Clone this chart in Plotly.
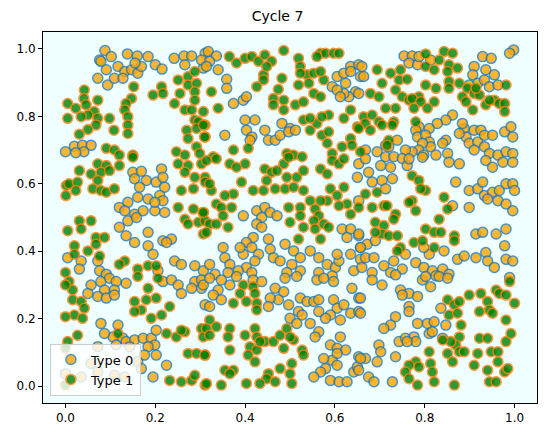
import plotly.graph_objects as go

title = "Cycle 7"
type_names = ["Type 0", "Type 1"]

# agent positions (x, y)
type0_points = [
    (0.088, 0.995), (0.076, 0.967), (0.102, 0.977), (0.138, 0.985), (0.160, 0.979), (0.184, 0.977),
    (0.200, 0.953), (0.215, 0.940), (0.117, 0.948), (0.132, 0.933), (0.147, 0.938), (0.161, 0.928),
    (0.169, 0.948), (0.091, 0.938), (0.072, 0.913), (0.094, 0.893), (0.109, 0.913), (0.128, 0.913),
    (0.155, 0.958), (0.079, 0.963), (0.242, 0.972), (0.264, 0.979), (0.281, 0.979), (0.266, 0.953),
    (0.307, 0.943), (0.311, 0.987), (0.303, 0.967), (0.000, 0.695), (0.020, 0.711), (0.038, 0.714),
    (0.057, 0.714), (0.041, 0.695), (0.023, 0.692),
    (0.318, 0.992), (0.336, 0.979), (0.321, 0.963), (0.340, 0.938), (0.359, 0.910), (0.359, 0.883),
    (0.374, 0.838), (0.396, 0.848), (0.403, 0.858), (0.314, 0.948), (0.422, 0.789), (0.400, 0.789),
    (0.403, 0.759), (0.415, 0.739), (0.411, 0.729), (0.444, 0.759), (0.452, 0.729), (0.467, 0.729),
    (0.478, 0.744), (0.482, 0.779), (0.500, 0.764), (0.497, 0.754), (0.512, 0.759), (0.355, 0.744),
    (0.594, 0.888), (0.605, 0.918), (0.620, 0.928), (0.635, 0.948), (0.653, 0.953), (0.657, 0.918),
    (0.646, 0.873), (0.631, 0.858), (0.620, 0.868), (0.605, 0.878), (0.624, 0.898), (0.635, 0.933),
    (0.612, 0.858),
    (0.998, 0.997), (0.989, 0.987), (0.754, 0.979), (0.772, 0.979), (0.765, 0.958), (0.784, 0.953),
    (0.787, 0.977), (0.813, 0.967), (0.660, 0.948), (0.664, 0.918), (0.653, 0.868), (0.910, 0.948),
    (0.929, 0.977), (0.948, 0.972), (0.936, 0.938), (0.955, 0.923), (0.907, 0.923), (0.918, 0.898),
    (0.933, 0.908), (0.944, 0.888), (0.963, 0.893), (0.899, 0.893), (0.862, 0.804), (0.847, 0.789),
    (0.828, 0.779), (0.810, 0.764), (0.787, 0.769), (0.780, 0.759), (0.784, 0.739), (0.802, 0.744),
    (0.810, 0.724), (0.813, 0.710), (0.795, 0.720), (0.787, 0.700), (0.772, 0.695), (0.757, 0.700),
    (0.720, 0.710), (0.713, 0.714), (0.694, 0.695), (0.668, 0.700), (0.847, 0.729), (0.840, 0.720),
    (0.851, 0.690), (0.825, 0.685), (0.798, 0.685), (0.888, 0.764), (0.910, 0.759), (0.925, 0.759),
    (0.892, 0.739), (0.899, 0.720), (0.918, 0.724), (0.933, 0.744), (0.951, 0.744), (0.910, 0.700),
    (0.933, 0.710), (0.944, 0.690), (0.963, 0.685), (0.981, 0.695), (0.996, 0.690), (0.978, 0.754),
    (0.996, 0.739), (0.992, 0.769), (0.884, 0.779), (0.877, 0.749), (0.739, 0.729), (0.713, 0.680),
    (0.731, 0.680), (0.750, 0.675),
    (0.150, 0.634), (0.169, 0.637), (0.214, 0.644), (0.154, 0.615), (0.180, 0.610), (0.202, 0.605),
    (0.217, 0.619), (0.165, 0.590), (0.221, 0.590), (0.210, 0.565), (0.184, 0.555), (0.161, 0.560),
    (0.139, 0.545), (0.120, 0.530), (0.132, 0.520), (0.154, 0.510), (0.173, 0.520), (0.199, 0.520),
    (0.221, 0.515), (0.139, 0.490), (0.158, 0.500), (0.120, 0.471), (0.135, 0.446), (0.154, 0.426),
    (0.184, 0.456), (0.184, 0.416), (0.217, 0.431), (0.236, 0.436), (0.225, 0.426), (0.195, 0.391),
    (0.005, 0.381), (0.035, 0.371), (0.031, 0.347), (0.072, 0.371), (0.076, 0.342), (0.091, 0.332),
    (0.243, 0.371), (0.258, 0.361), (0.288, 0.357), (0.307, 0.342), (0.206, 0.342), (0.217, 0.550),
    (0.199, 0.545),
    (0.653, 0.659), (0.650, 0.619), (0.396, 0.505), (0.426, 0.520), (0.444, 0.530), (0.456, 0.515),
    (0.437, 0.500), (0.471, 0.505), (0.426, 0.481), (0.437, 0.471), (0.418, 0.441), (0.403, 0.426),
    (0.415, 0.411), (0.396, 0.391), (0.389, 0.411), (0.351, 0.411), (0.355, 0.381), (0.366, 0.361),
    (0.321, 0.361), (0.452, 0.436), (0.456, 0.406), (0.430, 0.391), (0.422, 0.371), (0.403, 0.352),
    (0.385, 0.342), (0.333, 0.332), (0.463, 0.381), (0.489, 0.421), (0.478, 0.371), (0.508, 0.401),
    (0.504, 0.361), (0.523, 0.381), (0.523, 0.342), (0.545, 0.401), (0.564, 0.381), (0.583, 0.361),
    (0.601, 0.352), (0.609, 0.371), (0.564, 0.337), (0.594, 0.327), (0.616, 0.466), (0.635, 0.466),
    (0.627, 0.441), (0.653, 0.446), (0.657, 0.411), (0.635, 0.391), (0.605, 0.391), (0.657, 0.376),
    (0.642, 0.342), (0.493, 0.337), (0.362, 0.337), (0.415, 0.337),
    (0.668, 0.674), (0.702, 0.654), (0.724, 0.649), (0.761, 0.654), (0.795, 0.679), (0.765, 0.674),
    (0.854, 0.664), (0.877, 0.659), (0.936, 0.669), (0.951, 0.649), (0.974, 0.664), (0.996, 0.664),
    (0.675, 0.634), (0.705, 0.610), (0.728, 0.615), (0.683, 0.605), (0.713, 0.585), (0.869, 0.605),
    (0.899, 0.580), (0.918, 0.585), (0.929, 0.605), (0.933, 0.565), (0.951, 0.575), (0.966, 0.580),
    (0.963, 0.550), (0.940, 0.555), (0.981, 0.600), (0.996, 0.600), (1.000, 0.580), (0.996, 0.520),
    (0.981, 0.540), (0.862, 0.535), (0.899, 0.530), (0.653, 0.550), (0.653, 0.451), (0.672, 0.421),
    (0.690, 0.431), (0.657, 0.411), (0.668, 0.381), (0.687, 0.381), (0.660, 0.352), (0.683, 0.337),
    (0.709, 0.357), (0.731, 0.371), (0.724, 0.337), (0.750, 0.347), (0.757, 0.391), (0.780, 0.366),
    (0.798, 0.352), (0.817, 0.342), (0.840, 0.347), (0.843, 0.401), (0.810, 0.391), (0.798, 0.411),
    (0.914, 0.451), (0.929, 0.456), (0.959, 0.451), (0.981, 0.466), (0.978, 0.416), (0.873, 0.376),
    (0.888, 0.386), (0.914, 0.381), (0.936, 0.396), (0.940, 0.371), (0.955, 0.352), (0.981, 0.376),
    (0.996, 0.371), (0.989, 0.322), (0.854, 0.332), (0.825, 0.327),
    (0.057, 0.300), (0.079, 0.310), (0.098, 0.320), (0.113, 0.310), (0.109, 0.285), (0.087, 0.285),
    (0.072, 0.266), (0.091, 0.261), (0.109, 0.270), (0.135, 0.305), (0.050, 0.275), (0.217, 0.310),
    (0.236, 0.315), (0.251, 0.300), (0.258, 0.275), (0.288, 0.310), (0.303, 0.315), (0.303, 0.290),
    (0.281, 0.290), (0.311, 0.241), (0.079, 0.186), (0.117, 0.181), (0.106, 0.146), (0.128, 0.142),
    (0.135, 0.132), (0.154, 0.137), (0.173, 0.142), (0.191, 0.142), (0.202, 0.166), (0.199, 0.122),
    (0.184, 0.117), (0.176, 0.092), (0.202, 0.092), (0.225, 0.062), (0.195, 0.027), (0.161, 0.072),
    (0.143, 0.117), (0.113, 0.122), (0.072, 0.117), (0.057, 0.067), (0.072, 0.042), (0.109, 0.032),
    (0.132, 0.027), (0.000, 0.037), (0.035, 0.027), (0.169, 0.052), (0.087, 0.156),
    (0.307, 0.300), (0.321, 0.320), (0.340, 0.285), (0.329, 0.270), (0.347, 0.256), (0.366, 0.300),
    (0.347, 0.315), (0.321, 0.236), (0.381, 0.325), (0.418, 0.315), (0.437, 0.310), (0.467, 0.290),
    (0.489, 0.320), (0.515, 0.325), (0.486, 0.280), (0.474, 0.256), (0.456, 0.261), (0.452, 0.236),
    (0.497, 0.241), (0.523, 0.261), (0.538, 0.251), (0.553, 0.251), (0.564, 0.256), (0.519, 0.221),
    (0.527, 0.211), (0.500, 0.201), (0.515, 0.186), (0.545, 0.186), (0.564, 0.161), (0.556, 0.146),
    (0.612, 0.146), (0.560, 0.315), (0.575, 0.320), (0.597, 0.310), (0.638, 0.290), (0.653, 0.261),
    (0.597, 0.256), (0.605, 0.231), (0.620, 0.241), (0.590, 0.211), (0.579, 0.201), (0.612, 0.196),
    (0.635, 0.216), (0.653, 0.221), (0.590, 0.122), (0.605, 0.112), (0.624, 0.107), (0.594, 0.077),
    (0.605, 0.062), (0.579, 0.052), (0.568, 0.042), (0.553, 0.027), (0.590, 0.017), (0.609, 0.013),
    (0.627, 0.013), (0.642, 0.042), (0.650, 0.057), (0.653, 0.087), (0.575, 0.082), (0.564, 0.221),
    (0.605, 0.097),
    (0.683, 0.315), (0.705, 0.300), (0.735, 0.330), (0.795, 0.315), (0.802, 0.325), (0.832, 0.325),
    (0.851, 0.320), (0.813, 0.295), (0.746, 0.285), (0.765, 0.275), (0.784, 0.266), (0.750, 0.270),
    (0.657, 0.261), (0.657, 0.216), (0.765, 0.236), (0.765, 0.221), (0.836, 0.231), (0.735, 0.206),
    (0.724, 0.181), (0.709, 0.171), (0.784, 0.186), (0.806, 0.186), (0.821, 0.191), (0.810, 0.156),
    (0.817, 0.161), (0.847, 0.181), (0.840, 0.142), (0.743, 0.132), (0.757, 0.142), (0.776, 0.146),
    (0.780, 0.132), (0.698, 0.122), (0.702, 0.102), (0.694, 0.072), (0.668, 0.082), (0.657, 0.082),
    (0.653, 0.047), (0.675, 0.027), (0.687, 0.013), (0.735, 0.087), (0.728, 0.013), (0.761, 0.132),
]

type1_points = [
    (0.005, 0.838), (0.042, 0.878), (0.041, 0.853), (0.023, 0.824), (0.046, 0.834), (0.072, 0.848),
    (0.064, 0.814), (0.072, 0.794), (0.050, 0.804), (0.005, 0.794), (0.035, 0.799), (0.098, 0.794),
    (0.068, 0.774), (0.050, 0.761), (0.031, 0.747), (0.108, 0.759), (0.152, 0.888), (0.147, 0.853),
    (0.135, 0.838), (0.132, 0.819), (0.139, 0.799), (0.139, 0.774), (0.139, 0.749), (0.091, 0.705),
    (0.109, 0.700), (0.120, 0.685), (0.150, 0.685), (0.195, 0.863), (0.214, 0.888), (0.217, 0.868),
    (0.243, 0.838), (0.251, 0.908), (0.273, 0.918), (0.288, 0.933), (0.273, 0.893), (0.292, 0.898),
    (0.288, 0.873), (0.288, 0.848), (0.266, 0.819), (0.281, 0.819), (0.307, 0.814), (0.288, 0.789),
    (0.296, 0.784), (0.311, 0.774), (0.270, 0.759), (0.292, 0.764), (0.311, 0.739), (0.273, 0.734),
    (0.292, 0.710), (0.247, 0.695), (0.266, 0.685), (0.299, 0.690), (0.255, 0.868),
    (0.325, 0.873), (0.340, 0.824), (0.365, 0.977), (0.381, 0.958), (0.400, 0.972), (0.415, 0.977),
    (0.430, 0.963), (0.444, 0.982), (0.459, 0.963), (0.486, 0.995), (0.519, 0.972), (0.523, 0.948),
    (0.538, 0.923), (0.568, 0.987), (0.579, 0.987), (0.597, 0.987), (0.609, 0.987), (0.560, 0.977),
    (0.441, 0.923), (0.448, 0.948), (0.441, 0.908), (0.482, 0.913), (0.426, 0.888), (0.474, 0.880),
    (0.463, 0.853), (0.486, 0.848), (0.463, 0.834), (0.486, 0.819), (0.512, 0.834), (0.530, 0.843),
    (0.519, 0.893), (0.542, 0.898), (0.553, 0.868), (0.568, 0.858), (0.523, 0.928), (0.553, 0.928),
    (0.575, 0.908), (0.568, 0.933), (0.530, 0.789), (0.545, 0.759), (0.560, 0.779), (0.571, 0.744),
    (0.586, 0.804), (0.586, 0.754), (0.583, 0.720), (0.620, 0.794), (0.635, 0.819), (0.650, 0.769),
    (0.635, 0.734), (0.638, 0.714), (0.616, 0.710), (0.594, 0.690), (0.657, 0.695), (0.407, 0.705),
    (0.374, 0.700), (0.329, 0.680), (0.493, 0.690), (0.508, 0.685), (0.527, 0.680), (0.307, 0.774),
    (0.310, 0.739), (0.571, 0.799), (0.545, 0.794),
    (0.802, 0.985), (0.843, 0.992), (0.862, 0.987), (0.832, 0.967), (0.854, 0.953), (0.873, 0.943),
    (0.851, 0.933), (0.802, 0.948), (0.821, 0.938), (0.694, 0.938), (0.724, 0.928), (0.746, 0.938),
    (0.743, 0.908), (0.761, 0.910), (0.705, 0.898), (0.802, 0.893), (0.825, 0.883), (0.854, 0.903),
    (0.877, 0.898), (0.854, 0.883), (0.735, 0.878), (0.750, 0.858), (0.765, 0.848), (0.787, 0.858),
    (0.772, 0.853), (0.791, 0.843), (0.821, 0.843), (0.806, 0.824), (0.776, 0.824), (0.735, 0.824),
    (0.713, 0.824), (0.679, 0.868), (0.698, 0.858), (0.664, 0.799), (0.683, 0.804), (0.698, 0.784),
    (0.731, 0.784), (0.728, 0.774), (0.668, 0.779), (0.653, 0.764), (0.679, 0.759), (0.705, 0.774),
    (0.780, 0.784), (0.720, 0.729), (0.716, 0.714), (0.895, 0.883), (0.910, 0.868), (0.922, 0.863),
    (0.884, 0.858), (0.955, 0.848), (0.966, 0.838), (0.978, 0.838), (0.936, 0.834), (0.944, 0.848),
    (0.907, 0.819), (0.892, 0.843), (0.981, 0.893), (0.978, 0.814), (0.914, 0.883),
    (0.002, 0.595), (0.008, 0.600), (0.027, 0.605), (0.001, 0.565), (0.023, 0.580), (0.072, 0.659),
    (0.091, 0.654), (0.120, 0.654), (0.150, 0.679), (0.031, 0.639), (0.057, 0.629), (0.079, 0.634),
    (0.098, 0.639), (0.072, 0.610), (0.061, 0.585), (0.079, 0.580), (0.091, 0.575), (0.109, 0.585),
    (0.031, 0.490), (0.057, 0.490), (0.005, 0.461), (0.035, 0.466), (0.068, 0.441), (0.087, 0.441),
    (0.068, 0.421), (0.020, 0.416), (0.050, 0.401), (0.076, 0.386), (0.020, 0.391), (0.132, 0.371),
    (0.120, 0.361), (0.161, 0.347), (0.184, 0.357), (0.202, 0.357), (0.251, 0.659), (0.273, 0.654),
    (0.303, 0.659), (0.266, 0.634), (0.288, 0.619), (0.311, 0.619), (0.258, 0.580), (0.285, 0.585),
    (0.311, 0.605), (0.251, 0.530), (0.285, 0.525), (0.307, 0.515), (0.266, 0.495), (0.273, 0.481),
    (0.296, 0.486), (0.307, 0.451), (0.311, 0.490), (0.000, 0.337),
    (0.314, 0.669), (0.336, 0.674), (0.366, 0.659), (0.400, 0.659), (0.381, 0.649), (0.444, 0.644),
    (0.459, 0.634), (0.486, 0.659), (0.497, 0.679), (0.471, 0.639), (0.493, 0.619), (0.515, 0.619),
    (0.530, 0.639), (0.568, 0.644), (0.583, 0.629), (0.594, 0.669), (0.609, 0.659), (0.620, 0.674),
    (0.448, 0.610), (0.467, 0.585), (0.489, 0.585), (0.508, 0.590), (0.530, 0.580), (0.441, 0.580),
    (0.418, 0.580), (0.392, 0.605), (0.374, 0.570), (0.355, 0.565), (0.336, 0.540), (0.325, 0.580),
    (0.321, 0.600), (0.347, 0.530), (0.370, 0.530), (0.351, 0.505), (0.307, 0.515), (0.321, 0.481),
    (0.336, 0.481), (0.362, 0.471), (0.314, 0.456), (0.497, 0.530), (0.523, 0.530), (0.523, 0.505),
    (0.500, 0.486), (0.545, 0.550), (0.556, 0.525), (0.564, 0.505), (0.575, 0.481), (0.553, 0.490),
    (0.556, 0.466), (0.530, 0.471), (0.568, 0.436), (0.519, 0.436), (0.590, 0.585), (0.605, 0.565),
    (0.620, 0.590), (0.627, 0.540), (0.609, 0.535), (0.583, 0.550), (0.568, 0.550), (0.653, 0.530),
    (0.586, 0.471), (0.635, 0.510),
    (0.772, 0.624), (0.787, 0.610), (0.802, 0.580), (0.791, 0.585), (0.668, 0.570), (0.694, 0.575),
    (0.683, 0.530), (0.709, 0.535), (0.716, 0.535), (0.772, 0.550), (0.765, 0.545), (0.780, 0.520),
    (0.843, 0.560), (0.851, 0.525), (0.735, 0.510), (0.731, 0.495), (0.690, 0.486), (0.709, 0.476),
    (0.705, 0.451), (0.720, 0.446), (0.739, 0.446), (0.746, 0.411), (0.739, 0.401), (0.776, 0.426),
    (0.802, 0.466), (0.795, 0.431), (0.821, 0.456), (0.836, 0.456), (0.821, 0.411), (0.832, 0.495),
    (0.866, 0.446), (0.866, 0.431), (0.690, 0.456),
    (0.008, 0.310), (0.016, 0.285), (0.016, 0.256), (0.035, 0.251), (0.042, 0.231), (0.020, 0.211),
    (0.038, 0.201), (0.000, 0.206), (0.000, 0.300), (0.161, 0.325), (0.206, 0.320), (0.184, 0.290),
    (0.180, 0.256), (0.202, 0.261), (0.154, 0.251), (0.169, 0.226), (0.191, 0.201), (0.214, 0.211),
    (0.232, 0.236), (0.154, 0.221), (0.027, 0.151), (0.005, 0.132), (0.000, 0.112), (0.117, 0.156),
    (0.225, 0.156), (0.247, 0.146), (0.266, 0.161), (0.258, 0.166), (0.303, 0.171), (0.307, 0.146),
    (0.273, 0.097), (0.292, 0.097), (0.311, 0.092), (0.232, 0.017), (0.258, 0.013), (0.281, 0.017),
    (0.288, 0.032), (0.311, 0.003), (0.000, 0.003),
    (0.396, 0.300), (0.418, 0.295), (0.422, 0.275), (0.389, 0.275), (0.374, 0.246), (0.403, 0.251),
    (0.426, 0.246), (0.426, 0.226), (0.321, 0.196), (0.336, 0.176), (0.314, 0.171), (0.321, 0.151),
    (0.366, 0.171), (0.362, 0.146), (0.400, 0.151), (0.422, 0.171), (0.426, 0.146), (0.444, 0.132),
    (0.463, 0.132), (0.478, 0.151), (0.493, 0.171), (0.508, 0.137), (0.486, 0.112), (0.527, 0.107),
    (0.530, 0.092), (0.504, 0.067), (0.478, 0.052), (0.500, 0.037), (0.504, 0.008), (0.452, 0.037),
    (0.448, 0.022), (0.433, 0.008), (0.467, 0.013), (0.411, 0.117), (0.426, 0.107), (0.407, 0.092),
    (0.422, 0.072), (0.366, 0.107), (0.310, 0.092), (0.355, 0.047), (0.374, 0.047), (0.366, 0.037),
    (0.314, 0.008), (0.347, 0.003), (0.403, 0.008), (0.500, 0.146), (0.433, 0.132),
    (0.851, 0.256), (0.866, 0.241), (0.877, 0.251), (0.899, 0.270), (0.925, 0.275), (0.959, 0.285),
    (0.940, 0.251), (0.966, 0.275), (0.981, 0.270), (0.989, 0.310), (1.000, 0.246), (0.922, 0.221),
    (0.944, 0.226), (0.951, 0.216), (0.854, 0.211), (0.873, 0.216), (0.881, 0.181), (0.877, 0.146),
    (0.869, 0.122), (0.858, 0.132), (0.840, 0.137), (0.851, 0.097), (0.877, 0.102), (0.888, 0.102),
    (0.862, 0.072), (0.810, 0.102), (0.813, 0.067), (0.817, 0.042), (0.821, 0.013), (0.780, 0.072),
    (0.765, 0.062), (0.787, 0.057), (0.757, 0.042), (0.765, 0.022), (0.784, 0.003), (0.866, 0.003),
    (0.910, 0.062), (0.918, 0.097), (0.922, 0.142), (0.940, 0.142), (0.948, 0.102), (0.963, 0.102),
    (0.963, 0.072), (0.940, 0.047), (0.944, 0.013), (0.959, 0.013), (0.978, 0.042), (0.985, 0.052),
    (0.981, 0.132), (0.992, 0.156), (0.981, 0.196),
]

tick_vals = [0.0, 0.2, 0.4, 0.6, 0.8, 1.0]

fig = go.Figure()

fig.add_trace(go.Scatter(
    x=[p[0] for p in type0_points],
    y=[p[1] for p in type0_points],
    mode='markers',
    name=type_names[0],
    marker=dict(size=10, color='orange', opacity=0.8,
                line=dict(color='#1f77b4', width=1.5))
))
fig.add_trace(go.Scatter(
    x=[p[0] for p in type1_points],
    y=[p[1] for p in type1_points],
    mode='markers',
    name=type_names[1],
    marker=dict(size=10, color='green', opacity=0.8,
                line=dict(color='#ff7f0e', width=1.5))
))

axis_style = dict(
    range=[-0.05, 1.05],
    tickvals=tick_vals,
    ticktext=[f"{v:.1f}" for v in tick_vals],
    ticks='outside', ticklen=4, tickwidth=1, tickcolor='black',
    showline=True, linecolor='black', linewidth=1, mirror=True,
    showgrid=False, zeroline=False,
    tickfont=dict(size=12, color='black'),
)

# the page body keeps its 8px margin, so the figure is 8px smaller on each side
fig.update_layout(
    width=539, height=426,
    margin=dict(l=34, r=9, t=24, b=26),
    paper_bgcolor='white',
    plot_bgcolor='#F0FFFF',
    font=dict(family='DejaVu Sans', size=12, color='black'),
    title=dict(text=title, x=0.5, xanchor='center', y=0.980, yanchor='middle',
               font=dict(size=14)),
    xaxis=axis_style,
    yaxis=axis_style,
    legend=dict(x=0.014, y=0.02, xanchor='left', yanchor='bottom',
                bgcolor='rgba(255,255,255,0.8)', bordercolor='#cccccc', borderwidth=1,
                font=dict(size=13)),
)

fig.write_html("out.html")
